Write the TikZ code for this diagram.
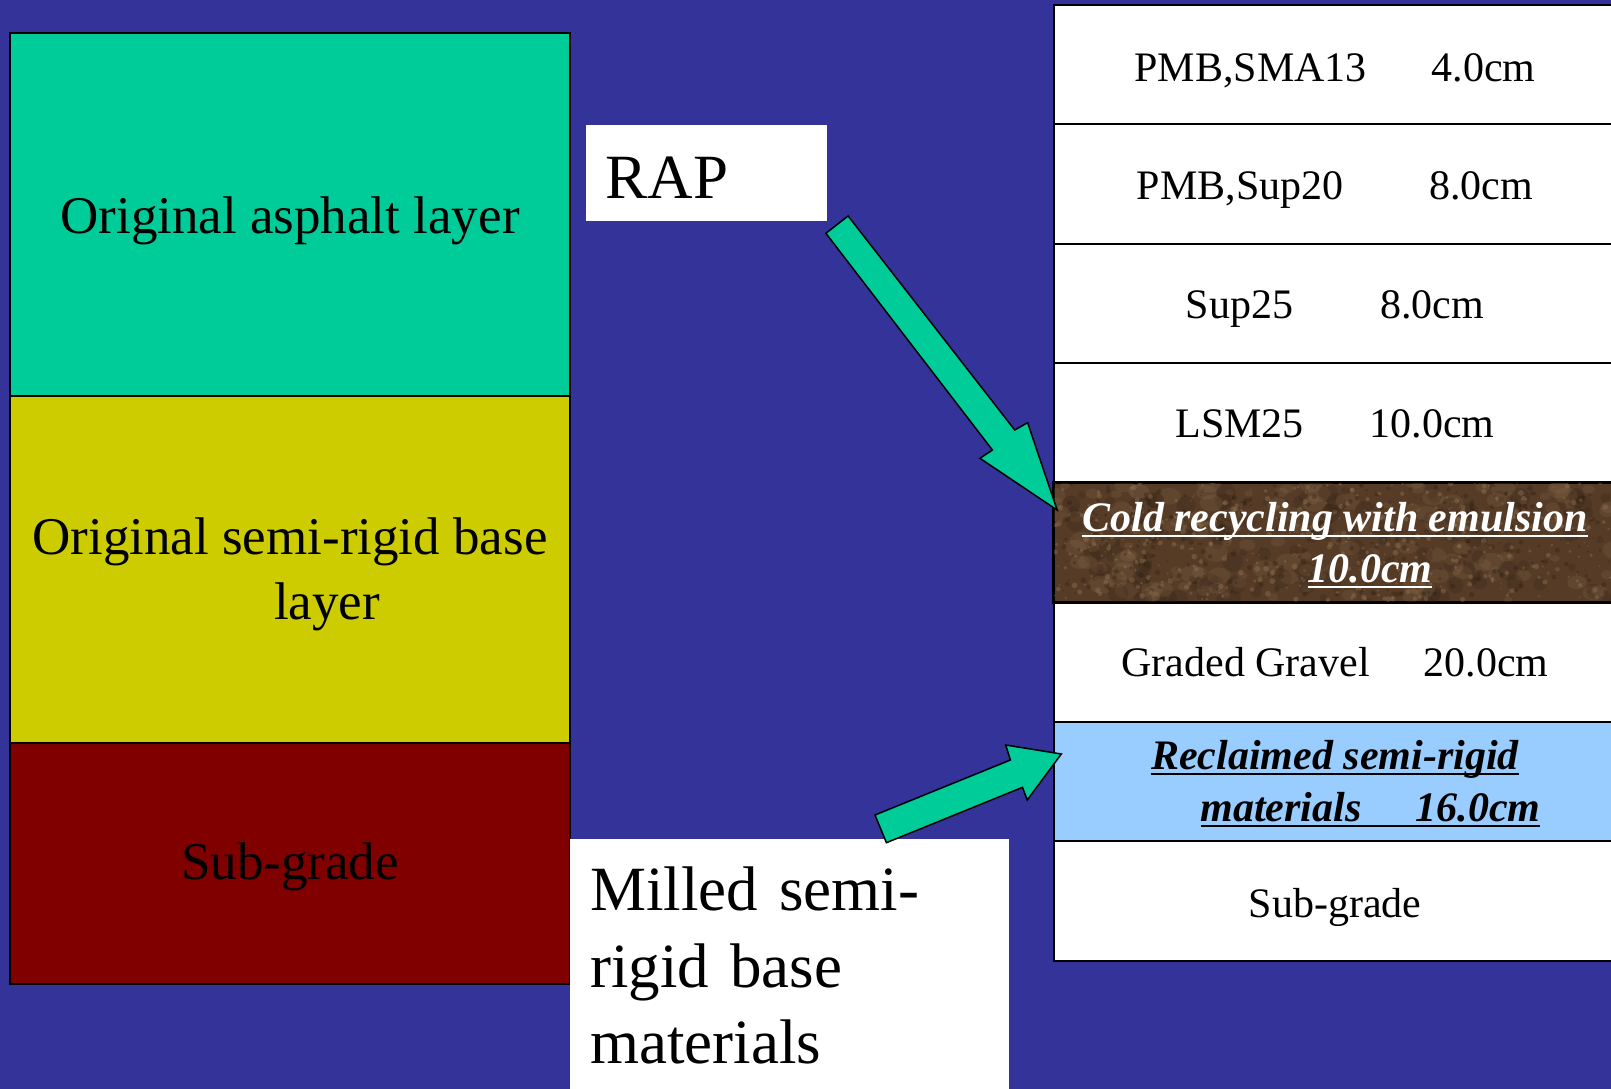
\documentclass[tikz,border=0pt]{standalone}
\usepackage{fontspec}
\setmainfont{Liberation Serif}
\usepackage{tikz}
\usetikzlibrary{positioning}
\definecolor{slideblue}{RGB}{51,51,153}
\definecolor{asphteal}{RGB}{0,204,153}
\definecolor{baseyellow}{RGB}{204,204,0}
\definecolor{subgred}{RGB}{128,0,0}
\definecolor{coldbrown}{RGB}{86,60,39}
\definecolor{coldlight}{RGB}{150,118,86}
\definecolor{colddark}{RGB}{45,30,18}
\definecolor{reclblue}{RGB}{153,204,255}
\tikzstyle{oldlayer} = [rectangle, draw=black, line width=2pt, outer sep=0pt, minimum width=560pt, align=center, font=\fontsize{53}{65}\selectfont]
\tikzstyle{newlayer} = [rectangle, draw=black, line width=2pt, minimum width=562pt, minimum height=119.44pt, fill=white, align=center, font=\fontsize{42}{51}\selectfont]
\tikzstyle{onerow} = [newlayer, text height=38pt, text depth=8pt]
\tikzstyle{notebox} = [rectangle, fill=white, inner xsep=20pt, align=left, font=\fontsize{63}{76.5}\selectfont]
\tikzstyle{blockarrow} = [draw=black, line width=1.5pt, fill=asphteal, line join=miter]
\newsavebox{\ulsave}
\newcommand{\ulbox}[1]{\sbox{\ulsave}{#1}\rlap{\rule[-5.5pt]{\wd\ulsave}{2pt}}\usebox{\ulsave}}
\begin{document}
\begin{tikzpicture}[x=1pt, y=-1pt, node distance=119.44pt]
    \useasboundingbox (0,0) rectangle (1611,1089);
    \clip (0,0) rectangle (1611,1089);
    \fill[slideblue] (0,0) rectangle (1611,1089);

    % old pavement
    \node (asph) [oldlayer, fill=asphteal, minimum height=362.5pt, text height=50pt, text depth=11pt] at (290,214.25) {Original asphalt layer};
    \node (semirigid) [oldlayer, fill=baseyellow, minimum height=347.5pt, below=0pt of asph] {\rule{0pt}{46pt}Original semi-rigid base\\\hspace*{74pt}layer};
    \node (oldsub) [oldlayer, fill=subgred, minimum height=241pt, text height=42pt, text depth=11pt, below=0pt of semirigid] {Sub-grade};

    \node (rap) [notebox, minimum width=241.4pt, minimum height=96pt, text width=201.4pt] at (706.5,173) {\rule{0pt}{50pt}RAP};
    \node (milled) [notebox, anchor=north west, text width=399pt, inner ysep=28pt] at (570,839) {Milled semi-\\rigid base\\materials};

    % new pavement
    \node (sma) [onerow, text height=41pt] at (1335,64.72) {PMB,SMA13\hspace{65pt}4.0cm};
    \node (sup20) [onerow, below of=sma] {PMB,Sup20\hspace{86pt}8.0cm};
    \node (sup25) [onerow, below of=sup20] {Sup25\hspace{87pt}8.0cm};
    \node (lsm) [onerow, text height=36pt, below of=sup25] {LSM25\hspace{66pt}10.0cm};
    \node (cold) [newlayer, below of=lsm, fill=coldbrown] {};
    \node (gravel) [onerow, below of=cold] {Graded Gravel\hspace{54pt}20.0cm};
    \node (reclaimed) [newlayer, below of=gravel, fill=reclblue, font=\fontsize{42}{52}\selectfont\bfseries\itshape] {\rule{0pt}{34pt}\ulbox{Reclaimed semi-rigid}\\\hspace*{71pt}\ulbox{materials\hspace{54pt}16.0cm}};
    \node (newsub) [onerow, text height=42pt, below of=reclaimed] {Sub-grade};

    \begin{scope}
        \clip (cold.south west) rectangle (cold.north east);
        \pgfmathsetseed{7}
        \foreach \k in {1,...,140}{
            \pgfmathsetmacro{\sx}{1054+562*rnd}
            \pgfmathsetmacro{\sy}{480+120*rnd}
            \pgfmathsetmacro{\sr}{4+9*rnd}
            \fill[coldlight, opacity=0.18] (\sx,\sy) ellipse ({\sr pt} and {0.7*\sr pt});
            \fill[colddark, opacity=0.22] (\sx+17,\sy+9) circle (0.8*\sr pt);
        }
        \foreach \k in {1,...,450}{
            \pgfmathsetmacro{\sx}{1054+562*rnd}
            \pgfmathsetmacro{\sy}{480+120*rnd}
            \pgfmathsetmacro{\sr}{0.7+2.2*rnd}
            \fill[coldlight, opacity=0.4] (\sx,\sy) circle (\sr pt);
            \fill[colddark, opacity=0.35] (\sx+9,\sy-5) circle (\sr pt);
        }
    \end{scope}
    \draw [line width=2pt] (cold.south west) rectangle (cold.north east);
    \node (coldtext) [align=center, text=white, font=\fontsize{42}{51}\selectfont\bfseries\itshape] at (cold.center) {\rule{0pt}{35pt}\ulbox{Cold recycling with emulsion}\\\hspace*{70pt}\ulbox{10.0cm}};

    % block arrows
    \draw [blockarrow] (825.9,233.3) -- (848.1,216) -- (1014.7,430) -- (1027.6,422.7) -- (1057.1,510) -- (980,458.3) -- (992.4,450) -- cycle;
    \draw [blockarrow] (886.4,842.7) -- (875,815) -- (1010.4,760) -- (1005.7,745) -- (1061.3,754) -- (1027.2,800) -- (1022.5,787.3) -- cycle;

\end{tikzpicture}
\end{document}
